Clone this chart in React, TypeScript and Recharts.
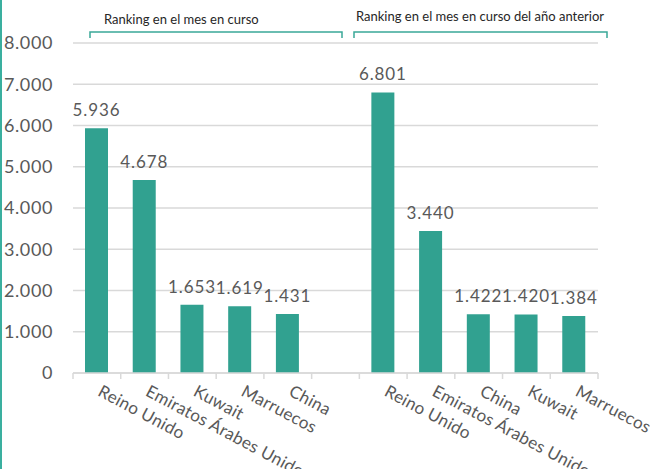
import { BarChart, Bar, XAxis, YAxis, CartesianGrid, LabelList } from 'recharts'

const countries = [
  'Reino Unido', 'Emiratos Árabes Unidos', 'Kuwait', 'Marruecos', 'China',
  '',
  'Reino Unido', 'Emiratos Árabes Unidos', 'China', 'Kuwait', 'Marruecos',
]
const visitors: (number | null)[] = [5936, 4678, 1653, 1619, 1431, null, 6801, 3440, 1422, 1420, 1384]
const yTicks = [0, 1000, 2000, 3000, 4000, 5000, 6000, 7000, 8000]

const data = countries.map((name, i) => ({ name, value: visitors[i] }))

const FONT = 'Lato, "Open Sans", sans-serif'
const TEAL = '#31a190'
const GREY = '#d9d9d9'
const TEXT = '#595959'

const fmt = (v: number | null) => (v == null ? '' : v.toLocaleString('de-DE'))

function CategoryTick(props: any) {
  const { x, y, payload } = props
  const half = payload.offset ?? 0
  const last = payload.index === countries.length - 1
  return (
    <g>
      <line x1={x - half} x2={x - half} y1={y - 8} y2={y - 2} stroke={GREY} strokeWidth={1.5} />
      {last && <line x1={x + half} x2={x + half} y1={y - 8} y2={y - 2} stroke={GREY} strokeWidth={1.5} />}
      <text
        x={x}
        y={y + 14}
        transform={`rotate(28 ${x} ${y + 14})`}
        textAnchor="start"
        fill={TEXT}
        fontSize={17}
        fontFamily={FONT}
        letterSpacing={0.3}
      >
        {payload.value}
      </text>
    </g>
  )
}

export default function App() {
  return (
    <div style={{ position: 'absolute', left: 0, top: 0, width: 650, height: 469, background: '#fff' }}>
      <div style={{ position: 'absolute', left: 0, top: 0, width: 2, height: 469, background: '#3aaf9f' }} />
      <BarChart width={650} height={469} data={data} margin={{ top: 43, right: 52, bottom: 0, left: 0 }} barSize={23}>
        <CartesianGrid vertical={false} stroke={GREY} strokeWidth={1.5} />
        <XAxis
          dataKey="name"
          height={96}
          interval={0}
          axisLine={{ stroke: GREY, strokeWidth: 1.5 }}
          tickLine={false}
          tick={<CategoryTick />}
        />
        <YAxis
          width={73}
          domain={[0, 8000]}
          ticks={yTicks}
          axisLine={false}
          tickLine={false}
          tickMargin={14}
          tickFormatter={(v: number) => fmt(v)}
          tick={{ fill: TEXT, fontSize: 18, fontFamily: FONT, letterSpacing: 0.6 }}
        />
        <Bar dataKey="value" fill={TEAL} isAnimationActive={false}>
          <LabelList
            dataKey="value"
            position="top"
            offset={12}
            formatter={(v: any) => fmt(v)}
            style={{ fill: TEXT, fontSize: 17, fontFamily: FONT, letterSpacing: 0.9 }}
          />
        </Bar>
      </BarChart>
      <svg width={650} height={469} style={{ position: 'absolute', left: 0, top: 0, pointerEvents: 'none' }}>
        <text x={104} y={24} fontSize={13} fontFamily={FONT} fill="#262626">Ranking en el mes en curso</text>
        <path d="M90 38 V32 H342 V38" fill="none" stroke="#3aa898" strokeWidth={1.5} />
        <text x={356} y={21} fontSize={13} fontFamily={FONT} fill="#262626">Ranking en el mes en curso del año anterior</text>
        <path d="M354 38 V32 H607 V38" fill="none" stroke="#3aa898" strokeWidth={1.5} />
      </svg>
    </div>
  )
}
